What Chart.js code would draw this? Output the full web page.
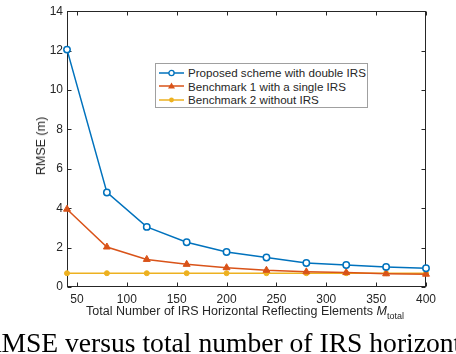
<!DOCTYPE html>
<html>
<head>
<meta charset="utf-8">
<script src="https://cdn.jsdelivr.net/npm/chart.js@4.4.1/dist/chart.umd.min.js"></script>
<style>
  body { margin: 0; background: #fff; overflow: hidden; }
  #wrap { position: relative; width: 456px; height: 354px; overflow: hidden;
          font-family: "Liberation Sans", Arial, sans-serif; color: #262626; }
  #chart { position: absolute; left: 0; top: 0; }
  .ytitle { position: absolute; left: 41px; top: 146px; font-size: 12.5px; white-space: nowrap;
            transform: translate(-50%, -50%) rotate(-90deg); }
  .xtitle { position: absolute; left: 245px; top: 312px; font-size: 12.5px; white-space: nowrap;
            transform: translate(-50%, -50%); }
  .xtitle sub { font-size: 9px; vertical-align: -4px; }
  #legend { position: absolute; left: 155px; top: 63px; width: 213px; height: 45px;
            background: #fff; border: 1px solid #a0a0a0; box-sizing: border-box;
            font-size: 11.6px; padding-top: 2px; }
  .row { display: flex; align-items: center; height: 13.5px; }
  .row svg { margin-left: 3px; margin-right: 4px; }
  .caption { position: absolute; left: -17px; top: 327px; white-space: nowrap;
             font-family: "Liberation Serif", "Times New Roman", serif; font-size: 27.6px; color: #000; }
</style>
</head>
<body>
<div id="wrap">
  <canvas id="chart" width="456" height="354"></canvas>
  <div class="ytitle">RMSE (m)</div>
  <div class="xtitle">Total Number of IRS Horizontal Reflecting Elements <i>M</i><sub>total</sub></div>
  <div id="legend"></div>
  <div class="caption">RMSE versus total number of IRS horizontal reflecting elements.</div>
</div>
<script>
// values
const mTotal = [40, 80, 120, 160, 200, 240, 280, 320, 360, 400];
const proposed = [12.05, 4.8, 3.05, 2.27, 1.78, 1.5, 1.22, 1.12, 1.02, 0.95];
const bench1 = [3.95, 2.03, 1.4, 1.15, 0.98, 0.85, 0.77, 0.73, 0.67, 0.65];
const bench2 = [0.7, 0.7, 0.7, 0.7, 0.7, 0.7, 0.7, 0.7, 0.7, 0.7];
const xTicks = [50, 100, 150, 200, 250, 300, 350, 400];
const yTicks = [0, 2, 4, 6, 8, 10, 12, 14];
const seriesNames = ["Proposed scheme with double IRS", "Benchmark 1 with a single IRS", "Benchmark 2 without IRS"];

const blue = "#0072BD", orange = "#D95319", yellow = "#EDB120";

function pts(ys) {
  return mTotal.map((x, i) => ({ x: x, y: ys[i] }));
}

// MATLAB style box with inward ticks on all four sides
const boxTicks = {
  id: "boxTicks",
  beforeDatasetsDraw(chart) {
    const { ctx, chartArea: a, scales } = chart;
    const L = Math.round(a.left) + 0.5, R = Math.round(a.right) - 0.5;
    const T = Math.round(a.top) + 0.5, B = Math.round(a.bottom) - 0.5;
    ctx.save();
    ctx.strokeStyle = "#262626";
    ctx.lineWidth = 1;
    ctx.beginPath();
    scales.x.ticks.forEach((t) => {
      const px = Math.round(scales.x.getPixelForValue(t.value)) + 0.5;
      ctx.moveTo(px, B); ctx.lineTo(px, B - 4);
      ctx.moveTo(px, T); ctx.lineTo(px, T + 4);
    });
    scales.y.ticks.forEach((t) => {
      const py = Math.round(scales.y.getPixelForValue(t.value)) + 0.5;
      ctx.moveTo(L, py); ctx.lineTo(L + 4, py);
      ctx.moveTo(R, py); ctx.lineTo(R - 4, py);
    });
    ctx.stroke();
    ctx.strokeRect(L, T, R - L, B - T);
    ctx.restore();
  },
};

new Chart(document.getElementById("chart"), {
  type: "line",
  data: {
    datasets: [
      { label: seriesNames[0], data: pts(proposed), borderColor: blue, backgroundColor: "#fff",
        borderWidth: 1.5, pointStyle: "circle", pointRadius: 3.2, pointBorderWidth: 1.5, clip: false },
      { label: seriesNames[1], data: pts(bench1), borderColor: orange, backgroundColor: orange,
        borderWidth: 1.5, pointStyle: "triangle", pointRadius: 4, pointBorderWidth: 1, clip: false },
      { label: seriesNames[2], data: pts(bench2), borderColor: yellow, backgroundColor: yellow,
        borderWidth: 1.5, pointStyle: "circle", pointRadius: 2.5, pointBorderWidth: 1, clip: false },
    ],
  },
  options: {
    responsive: false,
    animation: false,
    devicePixelRatio: 1,
    layout: { padding: { top: 6, right: 30, left: 0, bottom: 0 } },
    plugins: { legend: { display: false }, tooltip: { enabled: false } },
    scales: {
      x: {
        type: "linear", min: 40, max: 400,
        afterBuildTicks: (s) => { s.ticks = xTicks.map((v) => ({ value: v })); },
        afterFit: (s) => { s.height = 67; },
        grid: { display: false, drawTicks: false },
        border: { display: false },
        ticks: { color: "#262626", font: { family: "Liberation Sans", size: 12 }, padding: 5, maxRotation: 0 },
      },
      y: {
        type: "linear", min: 0, max: 14,
        afterBuildTicks: (s) => { s.ticks = yTicks.map((v) => ({ value: v })); },
        afterFit: (s) => { s.width = 67; },
        grid: { display: false, drawTicks: false },
        border: { display: false },
        ticks: { color: "#262626", font: { family: "Liberation Sans", size: 12 }, padding: 4 },
      },
    },
  },
  plugins: [boxTicks],
});

// legend inside the axes
const marks = [
  '<circle cx="12.5" cy="6" r="2.6" fill="#fff" stroke="' + blue + '" stroke-width="1.3"/>',
  '<path d="M12.5 2.5 L16 8.5 L9 8.5 Z" fill="' + orange + '"/>',
  '<circle cx="12.5" cy="6" r="2.4" fill="' + yellow + '"/>',
];
const colors = [blue, orange, yellow];
document.getElementById("legend").innerHTML = seriesNames.map((name, i) =>
  '<div class="row"><svg width="25" height="12"><line x1="0" y1="6" x2="25" y2="6" stroke="' + colors[i] +
  '" stroke-width="1.5"/>' + marks[i] + '</svg><span>' + name + '</span></div>').join("");
</script>
</body>
</html>
